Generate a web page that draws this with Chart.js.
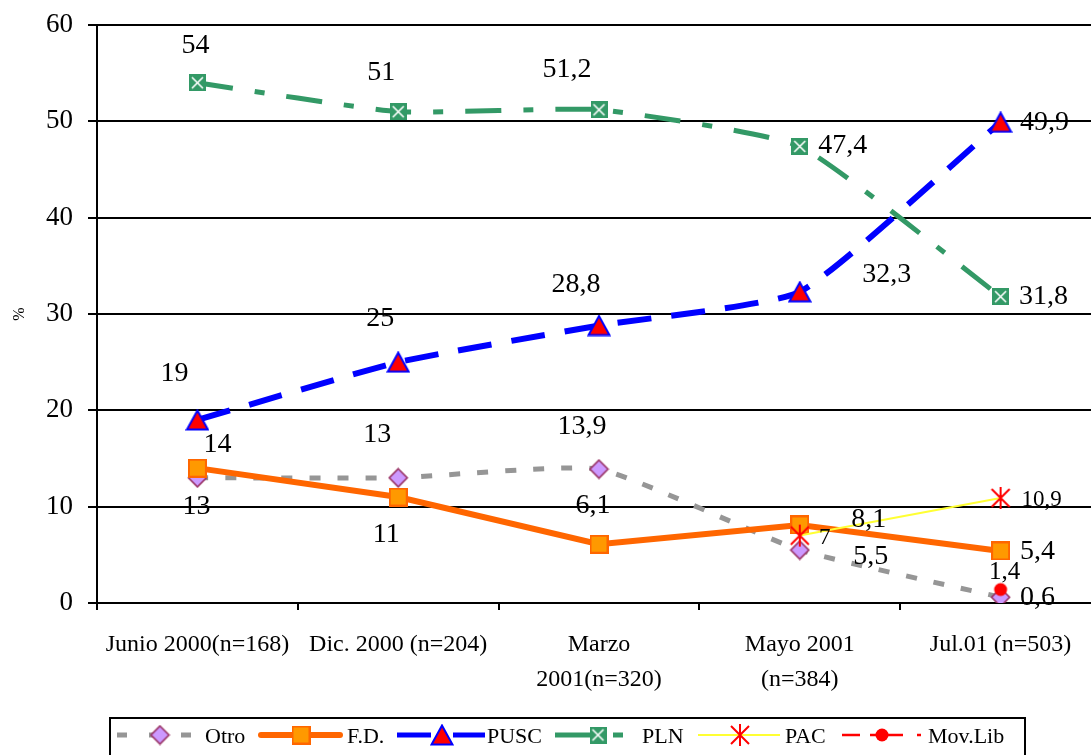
<!DOCTYPE html>
<html><head><meta charset="utf-8">
<script src="https://cdn.jsdelivr.net/npm/chart.js@4.4.0/dist/chart.umd.min.js"></script>
<style>html,body{margin:0;padding:0;overflow:hidden;background:#fff;width:1091px;height:755px}
#wrap{position:relative;width:1113px;height:755px}
#c{display:block}</style></head>
<body><div id="wrap"><canvas id="c" width="1113" height="755" style="width:1113px;height:755px"></canvas></div>
<script>
// ---- data ----
const categories = [['Junio 2000(n=168)'], ['Dic. 2000 (n=204)'], ['Marzo', '2001(n=320)'], ['Mayo 2001', '(n=384)'], ['Jul.01 (n=503)']];
const otro   = [13, 13, 13.9, 5.5, 0.6];
const fd     = [14, 11, 6.1, 8.1, 5.4];
const pusc   = [19, 25, 28.8, 32.3, 49.9];
const pln    = [54, 51, 51.2, 47.4, 31.8];
const pac    = [null, null, null, 7, 10.9];
const movlib = [null, null, null, null, 1.4];
const seriesNames = ['Otro', 'F.D.', 'PUSC', 'PLN', 'PAC', 'Mov.Lib'];
const yTicks = [0, 10, 20, 30, 40, 50, 60];

// ---- label placement (pixel offsets from each point) ----
const labelOffsets = [
  [[-1,29],[-21,-43],[-17,-42],[71,7],[37,0]],
  [[20,-23],[-12,38],[-6,-39],[69,-5],[37,1]],
  [[-23,-46],[-18,-44],[-23,-41],[87,-17],[44,0]],
  [[-2,-37],[-17,-39],[-32,-40],[43,-1],[43,0]],
  [null,null,null,[25,2],[41,2]],
  [null,null,null,null,[4,-17]]
];
const labelSizes = [28, 28, 28, 28, 23, 25];

// ---- markers ----
function mk(w, h, draw) { const c = document.createElement('canvas'); c.width = w; c.height = h; draw(c.getContext('2d')); return c; }
const mDiamond = mk(21, 21, x => { x.beginPath(); x.moveTo(10.5,1.5); x.lineTo(19.5,10.5); x.lineTo(10.5,19.5); x.lineTo(1.5,10.5); x.closePath(); x.fillStyle='#CC99FF'; x.fill(); x.strokeStyle='#993366'; x.lineWidth=1.6; x.stroke(); });
const mSquare = mk(19, 19, x => { x.fillStyle='#FF9900'; x.fillRect(1,1,17,17); x.strokeStyle='#FF6600'; x.lineWidth=2; x.strokeRect(1,1,17,17); });
const mTri = mk(24, 22, x => { x.beginPath(); x.moveTo(12,1.5); x.lineTo(22.5,20.5); x.lineTo(1.5,20.5); x.closePath(); x.fillStyle='#FF0000'; x.fill(); x.strokeStyle='#0000FF'; x.lineWidth=2; x.stroke(); });
const mPln = mk(17, 17, x => { x.fillStyle='#339966'; x.fillRect(0,0,17,17); x.strokeStyle='#FFFFFF'; x.lineWidth=1.6; x.beginPath(); x.moveTo(3,3); x.lineTo(14,14); x.moveTo(14,3); x.lineTo(3,14); x.stroke(); });
const mStar = mk(22, 24, x => { x.strokeStyle='#FF0000'; x.lineWidth=2; x.beginPath(); x.moveTo(2,3); x.lineTo(20,21); x.moveTo(20,3); x.lineTo(2,21); x.moveTo(11,1); x.lineTo(11,23); x.stroke(); });
const mCircle = mk(16, 16, x => { x.beginPath(); x.arc(8,8,6.5,0,Math.PI*2); x.fillStyle='#FF0000'; x.fill(); });

const FONT = 'Liberation Serif, "Times New Roman", serif';

function fmt(v) { return String(v).replace('.', ','); }

const labelPlugin = {
  id: 'dlabels',
  afterDatasetsDraw(chart) {
    const ctx = chart.ctx;
    ctx.save();
    ctx.fillStyle = '#000';
    ctx.textAlign = 'center';
    ctx.textBaseline = 'middle';
    chart.data.datasets.forEach((ds, di) => {
      const meta = chart.getDatasetMeta(di);
      ctx.font = labelSizes[di] + 'px ' + FONT;
      ds.data.forEach((v, i) => {
        if (v === null) return;
        const p = meta.data[i];
        const o = labelOffsets[di][i] || [0, -30];
        ctx.fillText(fmt(v), p.x + o[0], p.y + o[1]);
      });
    });
    ctx.restore();
  }
};

const legendPlugin = {
  id: 'customLegend',
  afterDraw(chart) {
    const ctx = chart.ctx;
    ctx.save();
    ctx.strokeStyle = '#000'; ctx.lineWidth = 2;
    ctx.strokeRect(110, 718, 915, 60);
    const ly = 735;
    function seg(x1, x2, color, w, dash, cap) {
      ctx.save(); ctx.strokeStyle = color; ctx.lineWidth = w; ctx.setLineDash(dash || []); ctx.lineCap = cap || 'butt';
      ctx.beginPath(); ctx.moveTo(x1, ly); ctx.lineTo(x2, ly); ctx.stroke(); ctx.restore();
    }
    function img(m, x) { ctx.drawImage(m, x - m.width / 2, ly - m.height / 2); }
    seg(117, 197, '#969696', 5, [10, 22]); img(mDiamond, 160);
    seg(261, 340, '#FF6600', 6, [], 'round'); img(mSquare, 301);
    seg(397, 485, '#0000FF', 5, [34, 22]); img(mTri, 442);
    seg(555, 623, '#339966', 5, [36, 22, 10, 22]); img(mPln, 598);
    seg(698, 780, '#FFFF33', 2); img(mStar, 740);
    seg(842, 860, '#FF0000', 2.5); seg(870, 903, '#FF0000', 2.5); seg(917, 921, '#FF0000', 2.5); img(mCircle, 882);
    ctx.fillStyle = '#000'; ctx.font = '22px ' + FONT; ctx.textAlign = 'left'; ctx.textBaseline = 'middle';
    const tx = [205, 347, 487, 642, 785, 928];
    seriesNames.forEach((n, i) => ctx.fillText(n, tx[i], 737));
    ctx.restore();
  }
};

new Chart(document.getElementById('c'), {
  type: 'line',
  data: {
    labels: categories,
    datasets: [
      { label: seriesNames[0], data: otro, borderColor: '#969696', borderWidth: 5, borderDash: [11, 17], tension: 0.15, pointStyle: mDiamond, order: 6 },
      { label: seriesNames[1], data: fd, borderColor: '#FF6600', borderWidth: 6, tension: 0, pointStyle: mSquare, order: 5 },
      { label: seriesNames[2], data: pusc, borderColor: '#0000FF', borderWidth: 6, borderDash: [34, 20], tension: 0.15, pointStyle: mTri, order: 4 },
      { label: seriesNames[3], data: pln, borderColor: '#339966', borderWidth: 5, borderDash: [36, 22, 10, 22], tension: 0.15, pointStyle: mPln, order: 3 },
      { label: seriesNames[4], data: pac, borderColor: '#FFFF33', borderWidth: 2, tension: 0, pointStyle: mStar, order: 2 },
      { label: seriesNames[5], data: movlib, borderColor: '#FF0000', borderWidth: 2, tension: 0, pointStyle: mCircle, order: 1 }
    ].map(d => Object.assign({ fill: false, pointRadius: 6, spanGaps: false, backgroundColor: d.borderColor }, d))
  },
  options: {
    responsive: false,
    maintainAspectRatio: false,
    animation: false,
    devicePixelRatio: 1,
    events: [],
    layout: { padding: { top: 25, left: 0, right: 0, bottom: 0 } },
    plugins: { legend: { display: false }, tooltip: { enabled: false } },
    scales: {
      x: {
        offset: true,
        grid: { display: true, drawOnChartArea: false, drawTicks: true, tickLength: 7, color: '#000', lineWidth: 2, offset: true },
        border: { display: true, color: '#000', width: 2 },
        ticks: { font: { family: FONT, size: 24, lineHeight: 1.46 }, color: '#000', padding: 17, maxRotation: 0, minRotation: 0, autoSkip: false },
        afterFit(s) { s.height = 152; s.paddingLeft = 0; s.paddingRight = 0; }
      },
      y: {
        min: 0, max: 60,
        afterBuildTicks(s) { s.ticks = yTicks.map(v => ({ value: v })); },
        ticks: { font: { family: FONT, size: 27 }, color: '#000', padding: 15 },
        grid: { color: '#000', lineWidth: 2, tickLength: 9 },
        border: { color: '#000', width: 2 },
        title: { display: true, text: '%', font: { family: FONT, size: 16 }, color: '#000', padding: { top: 10, bottom: 0 } },
        afterFit(s) { s.width = 97; s.paddingTop = 0; s.paddingBottom = 0; }
      }
    }
  },
  plugins: [labelPlugin, legendPlugin]
});
</script>
</body></html>
